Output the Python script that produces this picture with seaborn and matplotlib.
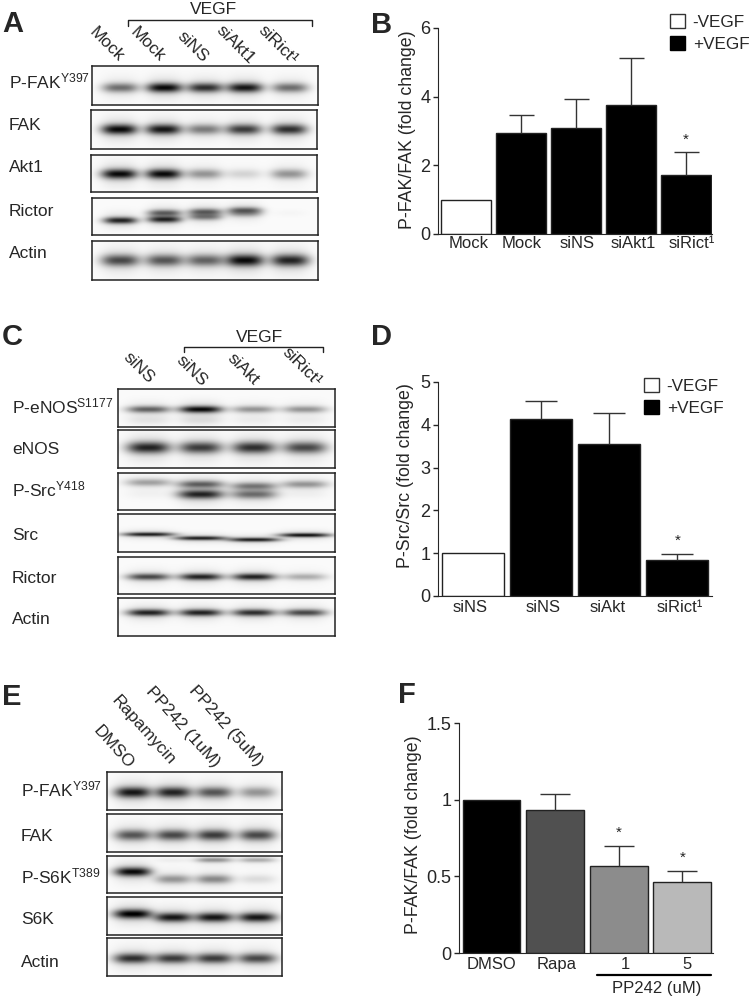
import numpy as np
import pandas as pd
import matplotlib
matplotlib.use('Agg')
import matplotlib.pyplot as plt
from matplotlib.patches import Patch
import seaborn as sns

# Bar chart values
b_groups = ['Mock -VEGF', 'Mock +VEGF', 'siNS +VEGF', 'siAkt1 +VEGF', 'siRict1 +VEGF']
b_labels = ['Mock', 'Mock', 'siNS', 'siAkt1', 'siRict¹']
b_values = [1.0, 2.93, 3.1, 3.75, 1.73]
b_tops = [np.nan, 3.47, 3.93, 5.12, 2.4]
b_stars = [4]

d_groups = ['siNS -VEGF', 'siNS +VEGF', 'siAkt +VEGF', 'siRict1 +VEGF']
d_labels = ['siNS', 'siNS', 'siAkt', 'siRict¹']
d_values = [1.0, 4.13, 3.55, 0.85]
d_tops = [np.nan, 4.56, 4.27, 0.98]
d_stars = [3]

f_groups = ['DMSO', 'Rapa', 'PP242 1', 'PP242 5']
f_labels = ['DMSO', 'Rapa', '1', '5']
f_values = [1.0, 0.93, 0.57, 0.465]
f_tops = [np.nan, 1.035, 0.70, 0.535]
f_stars = [2, 3]

# Blot band strength per lane (0 = no band, 1 = black)
a_pfak = [0.55, 0.95, 0.8, 0.9, 0.55]
a_fak = [0.95, 0.9, 0.5, 0.75, 0.8]
a_akt1 = [0.95, 0.95, 0.4, 0.15, 0.4]
a_rictor_low = [0.85, 0.85, 0.5, 0.3, 0.0]
a_rictor_up = [0.0, 0.6, 0.6, 0.6, 0.02]
a_actin = [0.7, 0.65, 0.6, 0.95, 0.85]

c_penos = [0.6, 0.95, 0.4, 0.4]
c_enos = [0.85, 0.75, 0.8, 0.7]
c_psrc_up = [0.35, 0.6, 0.5, 0.4]
c_psrc_low = [0.03, 0.85, 0.55, 0.03]
c_src = [0.85, 0.85, 0.85, 0.9]
c_rictor = [0.7, 0.85, 0.85, 0.3]
c_actin = [0.85, 0.85, 0.8, 0.7]

e_pfak = [0.9, 0.85, 0.65, 0.4]
e_fak = [0.65, 0.7, 0.75, 0.7]
e_ps6k = [0.95, 0.4, 0.45, 0.12]
e_ps6k_up = [0.0, 0.05, 0.4, 0.3]
e_s6k = [1.0, 0.9, 0.9, 0.9]
e_actin = [0.8, 0.75, 0.75, 0.7]

sns.set_style('ticks')
plt.rcParams['font.family'] = ['Liberation Sans', 'DejaVu Sans']
plt.rcParams['mathtext.fontset'] = 'custom'
plt.rcParams['mathtext.rm'] = 'Liberation Sans'
plt.rcParams['mathtext.default'] = 'regular'

W, H = 752, 1000
fig = plt.figure(figsize=(W / 100, H / 100), dpi=100)


def px_axes(x0, y0, x1, y1):
    return fig.add_axes([x0 / W, 1 - y1 / H, (x1 - x0) / W, (y1 - y0) / H])


def txt(x, y, s, **kw):
    fig.text(x / W, 1 - y / H, s, **kw)


def blot(box, lanes, lane_w, bands):
    x0, y0, x1, y1 = box
    ax = px_axes(x0, y0, x1, y1)
    nx, ny = int((x1 - x0) * 2), int((y1 - y0) * 2)
    xs = (np.arange(nx) + 0.5) / nx
    ys = (np.arange(ny) + 0.5) / ny
    clear = np.ones((ny, nx))
    for levels, pos, thick in bands:
        pos = np.broadcast_to(pos, (len(levels),))
        for cx, level, cy in zip(lanes, levels, pos):
            # soft core plus a faint halo, like a scanned film
            gx = np.exp(-np.abs((xs - cx) / lane_w) ** 3)
            d = ys - cy
            gy = 0.85 * np.exp(-(d / thick) ** 2) + 0.15 * np.exp(-(d / (2.4 * thick)) ** 2)
            clear *= 1 - level * np.outer(gy, gx)
    sns.heatmap(pd.DataFrame(1 - clear + 0.02), ax=ax, cmap='gray_r', vmin=0, vmax=1,
                cbar=False, xticklabels=False, yticklabels=False)
    for s in ax.spines.values():
        s.set_visible(True)
        s.set_color('#222222')
        s.set_linewidth(1.1)


def bars(box, c0, pitch, width, groups, labels, label_pos, values, tops, stars, colors,
         ylim, yticks, yticklabels, ylabel, ylab_xy, cap_px, star_off, label_pad):
    x0, y0, x1, y1 = box
    ax = px_axes(x0, y0, x1, y1)
    df = pd.DataFrame({'group': groups, 'value': values})
    sns.barplot(data=df, x='group', y='value', hue='group', palette=colors, dodge=False,
                legend=False, width=width / pitch, saturation=1, edgecolor='#222222',
                linewidth=1.0, ax=ax)
    pos = np.arange(len(groups))
    cap = cap_px / pitch
    ax.vlines(pos, values, tops, color='#333333', lw=1.0, zorder=1)
    ax.hlines(tops, pos - cap, pos + cap, color='#333333', lw=1.0, zorder=1)
    for i in stars:
        ax.annotate('*', (i, tops[i]), xytext=(0, star_off), textcoords='offset pixels',
                    ha='center', va='center', fontsize=11, color='#222222')
    ax.set_xlim((x0 - c0) / pitch, (x1 - c0) / pitch)
    ax.set_ylim(*ylim)
    ax.set_yticks(yticks, yticklabels, fontsize=13)
    ax.set_xticks(label_pos, labels, fontsize=12, va='baseline')
    ax.tick_params(axis='x', length=0, pad=label_pad)
    ax.tick_params(axis='y', length=3.5, width=1, pad=2)
    ax.set_xlabel('')
    ax.set_ylabel('')
    sns.despine(ax=ax)
    txt(ylab_xy[0], ylab_xy[1], ylabel, rotation=90, ha='center', va='center', fontsize=12.8)
    return ax


def legend(x, y, row):
    handles = [Patch(facecolor='white', edgecolor='#333333', lw=1.0, label='-VEGF'),
               Patch(facecolor='black', edgecolor='black', lw=1.0, label='+VEGF')]
    fig.legend(handles=handles, loc='upper left', bbox_to_anchor=(x / W, 1 - y / H),
               frameon=False, fontsize=12.3, borderpad=0, borderaxespad=0,
               handlelength=0.88, handleheight=0.88, handletextpad=0.45,
               labelspacing=(row - 15) / 17)


def bracket(x0, x1, y, drop):
    fig.add_artist(plt.Line2D([x0 / W, x0 / W, x1 / W, x1 / W],
                              [1 - (y + drop) / H, 1 - y / H, 1 - y / H, 1 - (y + drop) / H],
                              color='#222222', lw=1.0))


# Panel A
a_lanes = [0.125, 0.32, 0.5, 0.675, 0.875]
blot((92, 66, 318, 105), a_lanes, 0.08, [(a_pfak, 0.55, 0.12)])
blot((91, 110, 317, 149), a_lanes, 0.08, [(a_fak, 0.49, 0.13)])
blot((91, 155, 317, 192), a_lanes, 0.08, [(a_akt1, 0.52, 0.13)])
blot((92, 198, 318, 235), a_lanes, 0.075, [(a_rictor_low, [0.6, 0.57, 0.5, 0.42, 0.5], 0.09),
                                          (a_rictor_up, [0.4, 0.4, 0.37, 0.33, 0.4], 0.09)])
blot((92, 241, 318, 280), a_lanes, 0.085, [(a_actin, 0.49, 0.15)])
for y, s in zip([88, 130, 172, 216, 258],
                ['P-FAK$^{Y397}$', 'FAK', 'Akt1', 'Rictor', 'Actin']):
    txt(9, y, s, fontsize=12.5, va='baseline')
for x, y, s in zip([107, 148, 193, 235, 278], [45, 45, 47, 45, 45],
                   ['Mock', 'Mock', 'siNS', 'siAkt1', 'siRict¹']):
    txt(x, y, s, rotation=-45, rotation_mode='anchor', ha='center', va='center', fontsize=12.5)
bracket(128, 312, 20, 6)
txt(213, 9, 'VEGF', ha='center', va='center', fontsize=12.5)

# Panel B
bars((438, 28, 712, 234), 466, 55, 50, b_groups, b_labels, [0.04, 1.02, 2.02, 3.04, 4.1],
     b_values, b_tops, b_stars, ['white', 'black', 'black', 'black', 'black'],
     (0, 6), [0, 2, 4, 6], ['0', '2', '4', '6'], 'P-FAK/FAK (fold change)', (407, 130), 12.5, 12, 10)
legend(670, 14, 21)

# Panel C
c_lanes = [0.14, 0.38, 0.625, 0.86]
blot((118, 389, 335, 427), c_lanes, 0.1, [(c_penos, 0.53, 0.09), ([0.08, 0.1, 0.05, 0.05], 0.82, 0.12)])
blot((118, 430, 335, 468), c_lanes, 0.1, [(c_enos, 0.47, 0.15)])
blot((118, 473, 335, 510), c_lanes, 0.105, [(c_psrc_up, [0.25, 0.3, 0.35, 0.3], 0.1),
                                           (c_psrc_low, 0.57, 0.12)])
blot((118, 514, 335, 552), c_lanes, 0.12, [(c_src, [0.53, 0.63, 0.67, 0.55], 0.055)])
blot((118, 557, 335, 594), c_lanes, 0.1, [(c_rictor, 0.53, 0.09)])
blot((118, 598, 335, 636), c_lanes, 0.1, [(c_actin, 0.38, 0.09)])
for y, s in zip([413, 454, 496, 540, 583, 624],
                ['P-eNOS$^{S1177}$', 'eNOS', 'P-Src$^{Y418}$', 'Src', 'Rictor', 'Actin']):
    txt(12, y, s, fontsize=12.5, va='baseline')
for x, y, s in zip([139, 192, 243, 302], [368, 371, 369, 367],
                   ['siNS', 'siNS', 'siAkt', 'siRict¹']):
    txt(x, y, s, rotation=-45, rotation_mode='anchor', ha='center', va='center', fontsize=12.5)
bracket(184, 323, 347, 5)
txt(259, 337, 'VEGF', ha='center', va='center', fontsize=12.5)

# Panel D
bars((438, 382, 712, 596), 472.5, 68.3, 62, d_groups, d_labels, [-0.04, 1.04, 1.98, 3.03],
     d_values, d_tops, d_stars, ['white', 'black', 'black', 'black'],
     (0, 5), [0, 1, 2, 3, 4, 5], ['0', '1', '2', '3', '4', '5'], 'P-Src/Src (fold change)', (406, 476), 16, 13, 11.5)
legend(644, 378, 21)

# Panel E
e_lanes = [0.147, 0.377, 0.61, 0.857]
blot((107, 772, 282, 810), e_lanes, 0.105, [(e_pfak, 0.53, 0.14)])
blot((107, 814, 282, 852), e_lanes, 0.105, [(e_fak, 0.55, 0.14)])
blot((107, 856, 282, 893), e_lanes, 0.105, [(e_ps6k, [0.42, 0.62, 0.62, 0.62], 0.12),
                                           (e_ps6k_up, 0.1, 0.07)])
blot((107, 897, 282, 935), e_lanes, 0.11, [(e_s6k, [0.44, 0.53, 0.53, 0.53], 0.12)])
blot((107, 938, 282, 976), e_lanes, 0.11, [(e_actin, 0.53, 0.13)])
for y, s in zip([796, 841, 883, 924, 967],
                ['P-FAK$^{Y397}$', 'FAK', 'P-S6K$^{T389}$', 'S6K', 'Actin']):
    txt(21, y, s, fontsize=12.5, va='baseline')
for x, y, s in zip([113, 143, 183, 226], [747, 730, 727, 726],
                   ['DMSO', 'Rapamycin', 'PP242 (1uM)', 'PP242 (5uM)']):
    txt(x, y, s, rotation=-48, rotation_mode='anchor', ha='center', va='center', fontsize=12.5)

# Panel F
bars((459, 723, 713, 953), 491.5, 63.6, 57.7, f_groups, f_labels, [0, 1.02, 2.1, 3.08],
     f_values, f_tops, f_stars, ['black', '#505050', '#8c8c8c', '#b9b9b9'],
     (0, 1.5), [0, 0.5, 1, 1.5], ['0', '0.5', '1', '1.5'], 'P-FAK/FAK (fold change)', (413, 835), 15, 13, 11.5)
fig.add_artist(plt.Line2D([597 / W, 711 / W], [1 - 975 / H, 1 - 975 / H], color='black', lw=1.6))
txt(657, 988, 'PP242 (uM)', ha='center', va='center', fontsize=12)

# Panel letters
for x, y, s in zip([2, 371, 2, 371, 2, 398], [24, 25, 337, 337, 697, 695], 'ABCDEF'):
    txt(x, y, s, fontsize=21, fontweight='bold', va='center')

plt.savefig('out.png', dpi=100)
